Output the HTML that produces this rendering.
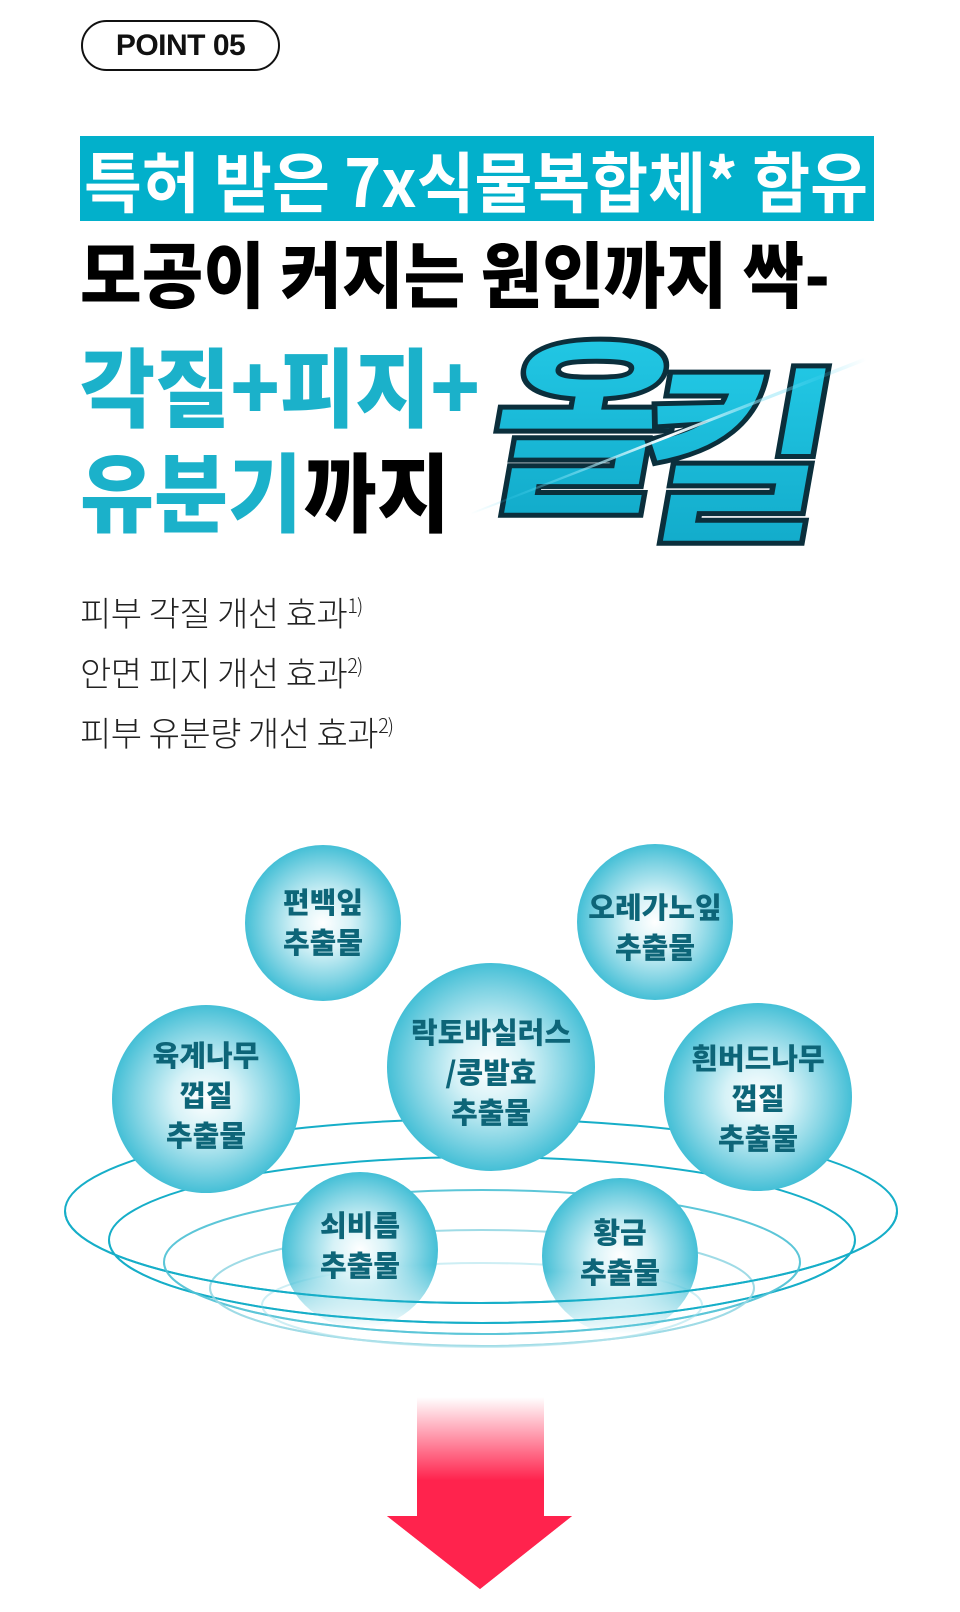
<!DOCTYPE html>
<html><head><meta charset="utf-8"><style>
html,body{margin:0;padding:0;background:#fff;}
body{width:960px;height:1612px;overflow:hidden;position:relative;font-family:"Liberation Sans","Noto Sans CJK KR",sans-serif;}
.pt{position:absolute;left:81px;top:20px;width:199px;height:51px;border:2px solid #111;border-radius:27px;box-sizing:border-box;font:bold 30px "Liberation Sans",sans-serif;text-align:center;line-height:47px;color:#111;letter-spacing:-0.5px}
.sub{position:absolute;left:80px;font:300 34px "Noto Sans CJK KR",sans-serif;color:#222;letter-spacing:-0.5px;line-height:40px}
.sub sup{font-size:20px;vertical-align:13px;letter-spacing:-1px}
svg{position:absolute;left:0;top:0}
</style></head><body>
<div class="pt">POINT 05</div>
<svg width="960" height="1612" viewBox="0 0 960 1612">
<defs>
<radialGradient id="bub" cx="50%" cy="50%" r="50%">
<stop offset="0" stop-color="#ffffff"/>
<stop offset="0.35" stop-color="#d6f2f7"/>
<stop offset="0.75" stop-color="#7fd3e3"/>
<stop offset="1" stop-color="#44bfd6"/>
</radialGradient>
<linearGradient id="fade" x1="0" y1="0" x2="0" y2="1">
<stop offset="0.6" stop-color="#fff" stop-opacity="1"/>
<stop offset="1" stop-color="#fff" stop-opacity="0"/>
</linearGradient>
<mask id="fm" maskContentUnits="objectBoundingBox"><rect width="1" height="1" fill="url(#fade)"/></mask>
<linearGradient id="arr" x1="0" y1="1397" x2="0" y2="1516" gradientUnits="userSpaceOnUse">
<stop offset="0" stop-color="#ff234d" stop-opacity="0"/>
<stop offset="0.7" stop-color="#ff234d" stop-opacity="1"/>
</linearGradient>
<linearGradient id="ok" x1="0" y1="0" x2="0" y2="1">
<stop offset="0" stop-color="#27d0ec"/>
<stop offset="1" stop-color="#0fa6c6"/>
</linearGradient>
<linearGradient id="streak" x1="470" y1="513" x2="866" y2="360" gradientUnits="userSpaceOnUse">
<stop offset="0" stop-color="#19c9ef" stop-opacity="0"/>
<stop offset="0.5" stop-color="#ffffff"/>
<stop offset="1" stop-color="#19c9ef" stop-opacity="0"/>
</linearGradient>
</defs>
<rect x="80" y="136" width="794" height="85" fill="#02b0cb"/>
<text x="84" y="207" font-family="Noto Sans CJK KR" font-weight="bold" font-size="66" fill="#fff" textLength="784" lengthAdjust="spacingAndGlyphs">특허 받은 7x식물복합체* 함유</text>
<text x="80" y="302" font-family="Noto Sans CJK KR" font-weight="900" font-size="72" fill="#000" textLength="750" lengthAdjust="spacingAndGlyphs">모공이 커지는 원인까지 싹-</text>
<text x="80" y="420" font-family="Noto Sans CJK KR" font-weight="900" font-size="86" fill="#1bb1ca" textLength="400" lengthAdjust="spacingAndGlyphs">각질+피지+</text>
<text x="80" y="525" font-family="Noto Sans CJK KR" font-weight="900" font-size="86" fill="#1bb1ca" textLength="222" lengthAdjust="spacingAndGlyphs">유분기</text>
<text x="304" y="525" font-family="Noto Sans CJK KR" font-weight="900" font-size="86" fill="#000" textLength="146" lengthAdjust="spacingAndGlyphs">까지</text>
<g transform="skewX(-10)">
<text x="565" y="498" font-family="Noto Sans CJK KR" font-weight="900" font-size="190" fill="url(#ok)" stroke="#0b2f3c" stroke-width="5" textLength="190" lengthAdjust="spacingAndGlyphs">올</text>
<text x="715" y="526" font-family="Noto Sans CJK KR" font-weight="900" font-size="190" fill="url(#ok)" stroke="#0b2f3c" stroke-width="5" textLength="200" lengthAdjust="spacingAndGlyphs">킬</text>
</g>
<polygon points="470,513 866,357 866,361 470,515" fill="url(#streak)"/>
<g fill="none">
<ellipse cx="481" cy="1211" rx="416" ry="92" stroke="#16aec8" stroke-width="2"/>
<ellipse cx="482" cy="1240" rx="373" ry="83" stroke="#16aec8" stroke-width="2"/>
<ellipse cx="482" cy="1262" rx="318" ry="72" stroke="#5cc6d8" stroke-width="2"/>
<ellipse cx="482" cy="1288" rx="272" ry="58" stroke="#9fdbe6" stroke-width="2"/>
<ellipse cx="482" cy="1305" rx="220" ry="42" stroke="#cdeef4" stroke-width="2"/>
</g>
<g font-family="Noto Sans CJK KR" font-weight="900" font-size="29" fill="#0d6578" text-anchor="middle">
<circle cx="323" cy="923" r="78" fill="url(#bub)"/>
<text x="323" y="913">편백잎</text><text x="323" y="953">추출물</text>
<circle cx="655" cy="922" r="78" fill="url(#bub)"/>
<text x="655" y="918">오레가노잎</text><text x="655" y="958">추출물</text>
<circle cx="206" cy="1099" r="94" fill="url(#bub)"/>
<text x="206" y="1066">육계나무</text><text x="206" y="1106">껍질</text><text x="206" y="1146">추출물</text>
<circle cx="491" cy="1067" r="104" fill="url(#bub)"/>
<text x="491" y="1043">락토바실러스</text><text x="491" y="1083">/콩발효</text><text x="491" y="1123">추출물</text>
<circle cx="758" cy="1097" r="94" fill="url(#bub)"/>
<text x="758" y="1069">흰버드나무</text><text x="758" y="1109">껍질</text><text x="758" y="1149">추출물</text>
<circle cx="360" cy="1250" r="78" fill="url(#bub)" mask="url(#fm)"/>
<text x="360" y="1236">쇠비름</text><text x="360" y="1276">추출물</text>
<circle cx="620" cy="1256" r="78" fill="url(#bub)" mask="url(#fm)"/>
<text x="620" y="1243">황금</text><text x="620" y="1283">추출물</text>
</g>
<g fill="none">
<path d="M65,1211 A416,92 0 0 0 897,1211" stroke="#16aec8" stroke-width="2"/>
<path d="M109,1240 A373,83 0 0 0 855,1240" stroke="#16aec8" stroke-width="2" opacity="0.8"/>
<path d="M164,1262 A318,72 0 0 0 800,1262" stroke="#5cc6d8" stroke-width="2" opacity="0.7"/>
<path d="M210,1288 A272,58 0 0 0 754,1288" stroke="#9fdbe6" stroke-width="2" opacity="0.7"/>
</g>
<polygon points="417,1397 544,1397 544,1516 572,1516 480,1589 387,1516 417,1516" fill="url(#arr)"/>
<polygon points="387,1516 572,1516 480,1589" fill="#ff234d"/>
</svg>
<div class="sub" style="top:585px">피부 각질 개선 효과<sup>1)</sup></div>
<div class="sub" style="top:645px">안면 피지 개선 효과<sup>2)</sup></div>
<div class="sub" style="top:705px">피부 유분량 개선 효과<sup>2)</sup></div>
</body></html>
